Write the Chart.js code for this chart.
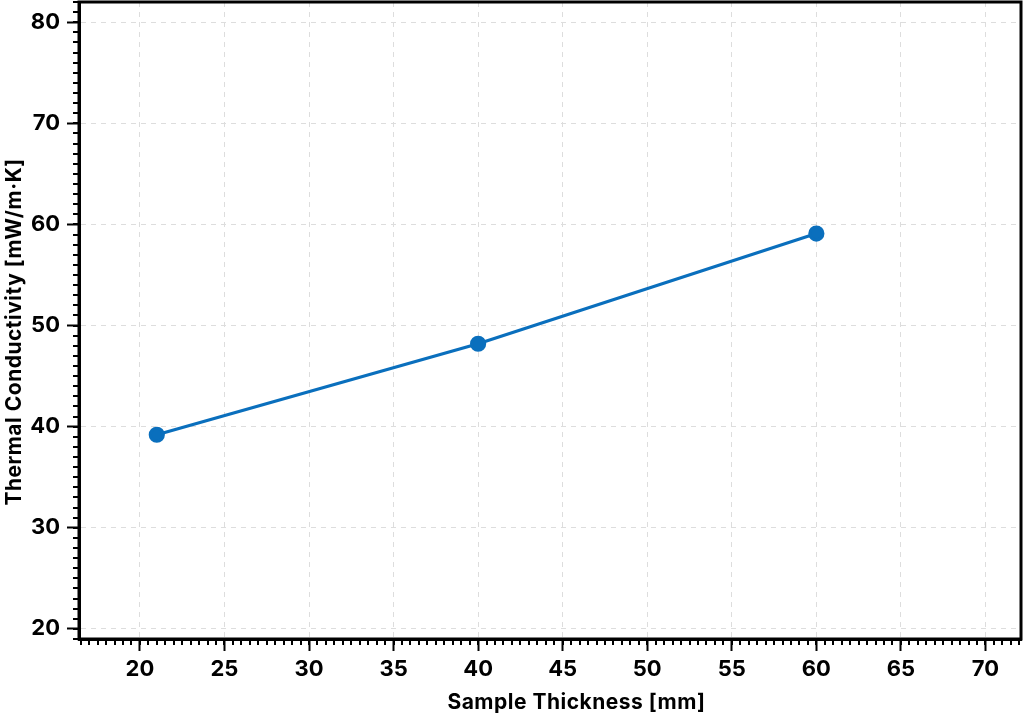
<!DOCTYPE html>
<html><head><meta charset="utf-8">
<script src="https://cdn.jsdelivr.net/npm/chart.js@4/dist/chart.umd.min.js"></script>
<style>html,body{margin:0;padding:0;background:#fff}#wrap{width:1024px;height:719px}</style>
</head><body><div id="wrap"><canvas id="c" width="1024" height="719"></canvas></div>
<script>
const thickness = [21, 40, 60];
const conductivity = [39.2, 48.2, 59.1];
const xTitle = 'Sample Thickness [mm]';
const yTitle = 'Thermal Conductivity [mW/m\u00b7K]';
const xRange = [16.4, 72.1];
const yRange = [19, 82];
const FONT = 'Inter, "Noto Sans", sans-serif';

const decor = {
  id: 'decor',
  afterDraw(chart) {
    const ctx = chart.ctx, a = chart.chartArea;
    const xs = chart.scales.x, ys = chart.scales.y;
    ctx.save();
    ctx.strokeStyle = '#000';
    ctx.lineWidth = 2;
    ctx.beginPath();
    for (let v = Math.ceil(xRange[0] * 2) / 2; v <= xRange[1]; v += 0.5) {
      const px = Math.round(xs.getPixelForValue(v));
      ctx.moveTo(px, a.bottom); ctx.lineTo(px, a.bottom + 6);
    }
    for (let v = Math.ceil(yRange[0]); v <= yRange[1]; v += 1) {
      const py = Math.round(ys.getPixelForValue(v));
      ctx.moveTo(a.left, py); ctx.lineTo(a.left - 6, py);
    }
    ctx.stroke();
    ctx.lineWidth = 3;
    ctx.strokeRect(a.left, a.top, a.right - a.left, a.bottom - a.top);
    // axis titles
    ctx.fillStyle = '#000';
    ctx.font = 'bold 21px ' + FONT;
    if ('letterSpacing' in ctx) ctx.letterSpacing = '0.5px';
    ctx.textAlign = 'center';
    ctx.textBaseline = 'middle';
    ctx.fillText(xTitle, a.left + (a.right - a.left) * 0.528, 703);
    ctx.translate(15, a.top + (a.bottom - a.top) * 0.518);
    ctx.rotate(-Math.PI / 2);
    ctx.fillText(yTitle, 0, 0);
    ctx.restore();
  }
};

function noPad(s) { s.paddingLeft = 0; s.paddingRight = 0; s.paddingTop = 0; s.paddingBottom = 0; }

new Chart(document.getElementById('c'), {
  type: 'scatter',
  data: {
    datasets: [{
      data: thickness.map((x, i) => ({x: x, y: conductivity[i]})),
      showLine: true,
      borderColor: '#0a6fbd',
      backgroundColor: '#0a6fbd',
      borderWidth: 3.2,
      pointRadius: 6.5,
      pointHoverRadius: 6.5
    }]
  },
  options: {
    responsive: false,
    animation: false,
    layout: {autoPadding: false, padding: {top: 2, right: 3, left: 0, bottom: 0}},
    plugins: {legend: {display: false}, tooltip: {enabled: false}},
    scales: {
      x: {
        type: 'linear', min: xRange[0], max: xRange[1],
        afterFit(s) { s.height = 80; noPad(s); },
        ticks: {stepSize: 5, includeBounds: false, autoSkip: false, maxRotation: 0, color: '#000', padding: 5,
          font: {family: FONT, size: 22, weight: 'bold'}},
        grid: {color: '#dddddd', tickColor: '#000', tickLength: 12, tickWidth: 2, lineWidth: 1},
        border: {display: true, color: '#000', width: 3, dash: [5, 5]},
        title: {display: false, text: xTitle}
      },
      y: {
        type: 'linear', min: yRange[0], max: yRange[1],
        afterFit(s) { s.width = 79; noPad(s); },
        ticks: {stepSize: 10, includeBounds: false, autoSkip: false, color: '#000', padding: 7,
          font: {family: FONT, size: 22, weight: 'bold'}},
        grid: {color: '#dddddd', tickColor: '#000', tickLength: 12, tickWidth: 2, lineWidth: 1},
        border: {display: true, color: '#000', width: 3, dash: [5, 5]},
        title: {display: false, text: yTitle}
      }
    }
  },
  plugins: [decor]
});
</script></body></html>
